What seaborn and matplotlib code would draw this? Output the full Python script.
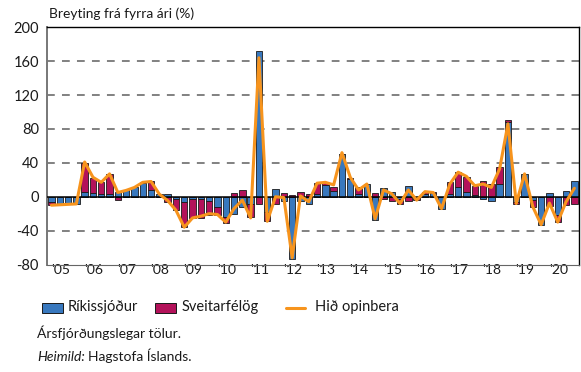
import numpy as np
import pandas as pd
import matplotlib
matplotlib.use("Agg")
import matplotlib.pyplot as plt
import matplotlib.transforms as mtransforms
from matplotlib.patches import Rectangle
from matplotlib.lines import Line2D
import seaborn as sns

# Quarterly contributions to year-on-year change (%), 2005Q1-2020Q4
years = list(range(2005, 2021))
year_labels = ["'05", "'06", "'07", "'08", "'09", "'10", "'11", "'12",
               "'13", "'14", "'15", "'16", "'17", "'18", "'19", "'20"]

rikissjodur = [
    -6, -8, -8, -8,        # 2005
    5, 4.5, 3, 3.5,        # 2006
    5, 8, 11.5, 16,        # 2007
    7.5, 3.5, 3, -3,       # 2008
    -6, -2.5, -3, -5,      # 2009
    -12, -24, -20, -12,    # 2010
    -8, 172, -18, 9,       # 2011
    -5, -74, -5, -8,       # 2012
    3, 14, 7, 50,          # 2013
    21, 3, 15, -28,        # 2014
    10, 5.5, -3, 13,       # 2015
    -2, 3, 4, -14,         # 2016
    3, 12, 5, 2,           # 2017
    -3, -5, 15, 88,        # 2018
    -6, 27, -4, -33,       # 2019
    4, -22, 7, 18,         # 2020
]
sveitarfelog = [
    -4, -1, 0, 0,
    35, 18, 14, 23,
    -4, 0, 0, 1,
    10.5, 0, -6.5, -13,
    -30, -23, -22, -17,
    -9, -7, 4, 8,
    -16, -9, -11, -8,
    4, 2, 6, 3,
    13, 2, 4, 1,
    1, 8, 0, 4,
    -3, -5, -5, -5,
    -2, 3, 2, 0,
    14, 17, 18, 11,
    18, 15, 20, 2,
    -3, 0, -8, 0,
    -11, -8, -10, -8,
]
hid_opinbera = [
    -10, -9.5, -9, -8.5,
    41, 23, 17, 27,
    5, 7.5, 11, 17,
    18, 3, -4.5, -16,
    -36, -25, -23, -20,
    -21, -30, -14, -4,
    -25, 164, -29, 0,
    -1, -72, 1, -6,
    16, 17, 14, 52,
    23, 8, 15, -26,
    8, 3.5, -8, 8,
    -4, 6, 5, -14,
    15, 29, 24, 13,
    15, 11, 33, 86,
    -8, 27, -12, -33,
    -7.5, -30, -6, 10,
]
series_names = ["Ríkissjóður", "Sveitarfélög", "Hið opinbera"]

BLUE = "#3878BE"
CRIMSON = "#B3125A"
ORANGE = "#F7941D"
EDGE = "#1a1a1a"
TEXT = "#1a1a1a"

quarters = [f"{y}Q{q}" for y in years for q in range(1, 5)]
df = pd.DataFrame({
    "quarter": quarters,
    "pos": np.arange(len(quarters)),
    "R": rikissjodur,
    "S": sveitarfelog,
    "H": hid_opinbera,
})
# Second component stacks on the first when both point the same way
same_sign = np.sign(df["R"]) == np.sign(df["S"])
df["S_bottom"] = np.where(same_sign, df["R"], 0.0)

sns.set_theme(style="white")
plt.rcParams["font.family"] = ["Lato", "DejaVu Sans"]

W, H = 581, 372
fig = plt.figure(figsize=(W / 100, H / 100), dpi=100)
ax = fig.add_axes([47.3 / W, 1 - 264.5 / H, (578.5 - 47.3) / W, (264.5 - 27.3) / H])

bar_kw = dict(width=0.76, edgecolor=EDGE, linewidth=0.6, saturation=1,
              order=quarters, ax=ax, zorder=2)
sns.barplot(data=df, x="quarter", y="R", color=BLUE, **bar_kw)
sns.barplot(data=df, x="quarter", y="S", color=CRIMSON,
            bottom=df["S_bottom"].to_numpy(), **bar_kw)
sns.lineplot(data=df, x="pos", y="H", color=ORANGE, linewidth=2.2, ax=ax,
             zorder=4)

ax.set_xlim(-0.5, len(quarters) - 0.5)
ax.set_ylim(-80, 200)
ax.set_yticks(np.arange(-80, 201, 40))
ax.set_yticklabels([f"{v}" for v in range(-80, 201, 40)])
for v in range(-40, 200, 40):
    if v != 0:
        ax.axhline(v, color="#777777", linewidth=1.3, dashes=(4.3, 4.0), zorder=1)
ax.axhline(0, color="black", linewidth=1.1, zorder=3)

# Year ticks at the year boundaries, labels beside each tick
bounds = [4 * i - 0.5 for i in range(len(years))]
ax.set_xticks(bounds)
ax.set_xticklabels(year_labels)
ax.tick_params(axis="x", length=8, width=0.9, color="#444444",
               direction="out", pad=-8.5, labelsize=10, labelcolor=TEXT)
shift = mtransforms.ScaledTranslation(2.5 / 72, 0, fig.dpi_scale_trans)
for lab in ax.get_xticklabels():
    lab.set_horizontalalignment("left")
    lab.set_transform(lab.get_transform() + shift)
ax.tick_params(axis="y", length=0, pad=6, labelsize=10.5, labelcolor=TEXT)
ax.set_xlabel("")
ax.set_ylabel("")

for side in ["top", "right"]:
    ax.spines[side].set_color("black")
    ax.spines[side].set_linewidth(1.0)
ax.spines["left"].set_color("#777777")
ax.spines["left"].set_linewidth(1.4)
ax.spines["bottom"].set_color("#666666")
ax.spines["bottom"].set_linewidth(0.8)

def fx(px):
    return px / W

def fy(py):
    return 1 - py / H

fig.text(fx(49), fy(18.5), "Breyting frá fyrra ári (%)", fontsize=9.9,
         color=TEXT, ha="left", va="baseline")

# Legend row drawn in figure pixel coordinates
leg_y = 307.5
fig.patches.append(Rectangle((fx(42), fy(312.5)), fx(21), 10 / H,
                             transform=fig.transFigure, facecolor=BLUE,
                             edgecolor=EDGE, linewidth=0.7))
fig.text(fx(68), fy(leg_y), series_names[0], fontsize=10.5, color=TEXT,
         ha="left", va="center")
fig.patches.append(Rectangle((fx(155), fy(312.5)), fx(21), 10 / H,
                             transform=fig.transFigure, facecolor=CRIMSON,
                             edgecolor=EDGE, linewidth=0.7))
fig.text(fx(182), fy(leg_y), series_names[1], fontsize=10.5, color=TEXT,
         ha="left", va="center")
fig.lines.append(Line2D([fx(286), fx(305)], [fy(leg_y), fy(leg_y)],
                        transform=fig.transFigure, color=ORANGE,
                        linewidth=2.2))
fig.text(fx(315), fy(leg_y), series_names[2], fontsize=10.5, color=TEXT,
         ha="left", va="center")

fig.text(fx(37), fy(338), "Ársfjórðungslegar tölur.", fontsize=10,
         color=TEXT, ha="left", va="baseline")
src = fig.text(fx(37), fy(361), "Heimild:", fontsize=10, fontstyle="italic",
               color=TEXT, ha="left", va="baseline")
renderer = fig.canvas.get_renderer()
bb = src.get_window_extent(renderer=renderer)
fig.text(fx(bb.x1 + 3.5), fy(361), "Hagstofa Íslands.", fontsize=10,
         color=TEXT, ha="left", va="baseline")

fig.savefig("out.png", dpi=100)
